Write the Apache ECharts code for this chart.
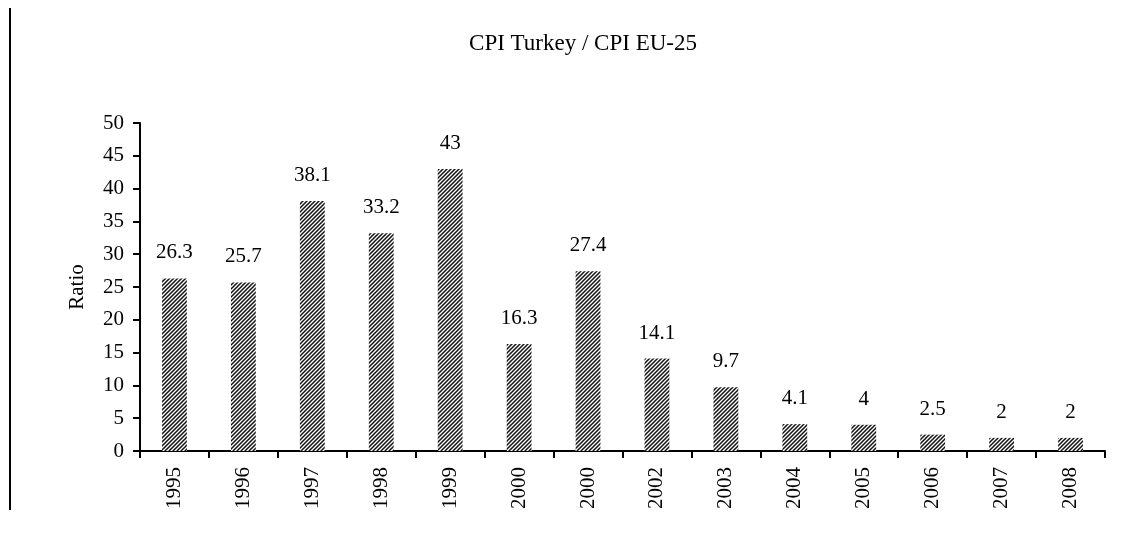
<!DOCTYPE html>
<html>
<head>
<meta charset="utf-8">
<script src="https://cdn.jsdelivr.net/npm/echarts@6/dist/echarts.min.js"></script>
<style>
html, body { margin: 0; padding: 0; background: #fff; }
#chart { width: 1136px; height: 538px; }
</style>
</head>
<body>
<div id="chart"></div>
<script>
var years = ['1995', '1996', '1997', '1998', '1999', '2000', '2000', '2002', '2003', '2004', '2005', '2006', '2007', '2008'];
var ratios = [26.3, 25.7, 38.1, 33.2, 43, 16.3, 27.4, 14.1, 9.7, 4.1, 4, 2.5, 2, 2];
var yTicks = [0, 50, 5];

// diagonal hatch like the original
function hatch() {
	var c = document.createElement('canvas');
	c.width = 4;
	c.height = 4;
	var g = c.getContext('2d');
	g.fillStyle = '#fff';
	g.fillRect(0, 0, 4, 4);
	g.strokeStyle = '#111';
	g.lineWidth = 1.5;
	g.beginPath();
	g.moveTo(-1, 5); g.lineTo(5, -1);
	g.moveTo(-1, 1); g.lineTo(1, -1);
	g.moveTo(3, 5); g.lineTo(5, 3);
	g.stroke();
	return c;
}

var font = 'Liberation Serif';

var option = {
	animation: false,
	backgroundColor: '#fff',
	title: {
		text: 'CPI Turkey / CPI EU-25',
		left: 578,
		top: 27,
		textAlign: 'center',
		textStyle: { fontFamily: font, fontSize: 23, fontWeight: 'normal', color: '#000' }
	},
	grid: { left: 140, right: 31, top: 123, bottom: 87 },
	xAxis: {
		type: 'category',
		data: years,
		axisLine: { lineStyle: { color: '#000', width: 2 } },
		axisTick: { show: true, length: 7, lineStyle: { color: '#000', width: 2 } },
		axisLabel: { rotate: 90, margin: 16, fontFamily: font, fontSize: 21, color: '#000' }
	},
	yAxis: {
		type: 'value',
		min: yTicks[0],
		max: yTicks[1],
		interval: yTicks[2],
		name: 'Ratio',
		nameLocation: 'middle',
		nameGap: 52,
		nameTextStyle: { fontFamily: font, fontSize: 21, color: '#000' },
		axisLine: { show: true, lineStyle: { color: '#000', width: 2 } },
		axisTick: { show: true, length: 7, lineStyle: { color: '#000', width: 2 } },
		axisLabel: { margin: 16, fontFamily: font, fontSize: 21, color: '#000' },
		splitLine: { show: false }
	},
	series: [
		{
			type: 'bar',
			data: ratios,
			barWidth: '36%',
			itemStyle: { color: { image: hatch(), repeat: 'repeat' } },
			label: {
				show: true,
				position: 'top',
				distance: 15,
				fontFamily: font,
				fontSize: 21,
				color: '#000'
			}
		}
	],
	graphic: [
		{
			type: 'line',
			shape: { x1: 10, y1: 8, x2: 10, y2: 510 },
			style: { stroke: '#000', lineWidth: 2 }
		}
	]
};

var chart = echarts.init(document.getElementById('chart'));
chart.setOption(option);
</script>
</body>
</html>
